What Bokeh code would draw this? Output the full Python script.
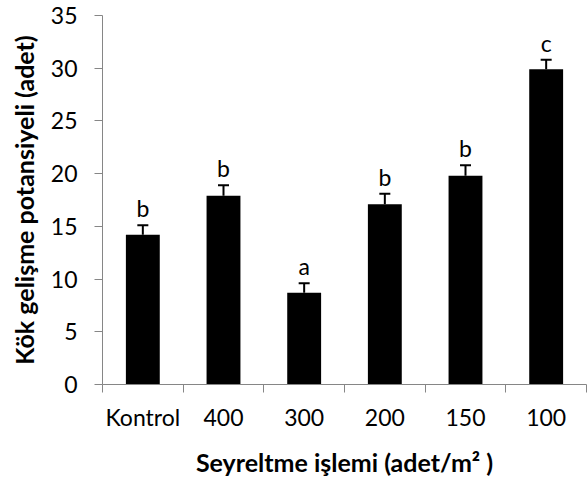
from bokeh.plotting import figure
from bokeh.models import FixedTicker, Range1d, ColumnDataSource, Whisker, TeeHead, LabelSet
from bokeh.core.properties import value
from bokeh.embed import file_html
from bokeh.resources import INLINE

categories = ["Kontrol", "400", "300", "200", "150", "100"]
values = [14.2, 17.9, 8.7, 17.1, 19.8, 29.9]
errors = [0.9, 1.0, 0.9, 1.0, 1.0, 0.9]
letters = ["b", "b", "a", "b", "b", "c"]
y_ticks = [0, 5, 10, 15, 20, 25, 30, 35]

xs = [i + 0.5 for i in range(len(categories))]
src = ColumnDataSource(dict(
    x=xs, top=values, upper=[v + e for v, e in zip(values, errors)],
    letter=letters,
))

FONT = "Lato"
AX = "#868686"

p = figure(width=587, height=479, output_backend="svg", toolbar_location=None,
           x_range=Range1d(0, len(categories)), y_range=Range1d(0, 35),
           min_border_left=102, min_border_right=1, min_border_top=15, min_border_bottom=95)
p.outline_line_color = None
p.grid.visible = False
p.background_fill_color = "white"
p.border_fill_color = "white"

p.vbar(x="x", top="top", width=0.42, bottom=0, source=src, fill_color="black", line_color=None)

w = Whisker(base="x", lower="top", upper="upper", source=src,
            lower_head=None, upper_head=TeeHead(size=11, line_color="black", line_width=2),
            line_color="black", line_width=2)
p.add_layout(w)

labels = LabelSet(x="x", y="upper", text="letter", source=src, text_align="center",
                  text_baseline="alphabetic", y_offset=8, text_font=value(FONT),
                  text_font_size="23px", text_color="black")
p.add_layout(labels)

p.xaxis.ticker = FixedTicker(ticks=xs, minor_ticks=list(range(len(categories) + 1)))
p.xaxis.major_label_overrides = {x: c for x, c in zip(xs, categories)}
p.xaxis.major_tick_line_color = None
p.xaxis.minor_tick_line_color = AX
p.xaxis.minor_tick_out = 8
p.xaxis.minor_tick_in = 0
p.xaxis.major_label_standoff = 10
p.xaxis.axis_label = "Seyreltme işlemi (adet/m² )"

p.yaxis.ticker = FixedTicker(ticks=y_ticks)
p.yaxis.minor_tick_line_color = None
p.yaxis.major_tick_line_color = AX
p.yaxis.major_tick_out = 8
p.yaxis.major_tick_in = 0
p.yaxis.major_label_standoff = 17
p.yaxis.axis_label = "Kök gelişme potansiyeli (adet)"

for ax in (p.xaxis, p.yaxis):
    ax.axis_line_color = AX
    ax.axis_line_width = 1
    ax.major_label_text_font = FONT
    ax.major_label_text_font_size = "23px"
    ax.major_label_text_color = "black"
    ax.axis_label_text_font = FONT
    ax.axis_label_text_font_size = "25px"
    ax.axis_label_text_font_style = "bold"
    ax.axis_label_text_color = "black"
p.xaxis.axis_label_standoff = 13
p.yaxis.axis_label_standoff = 9

open("out.html", "w").write(file_html(p, INLINE))
